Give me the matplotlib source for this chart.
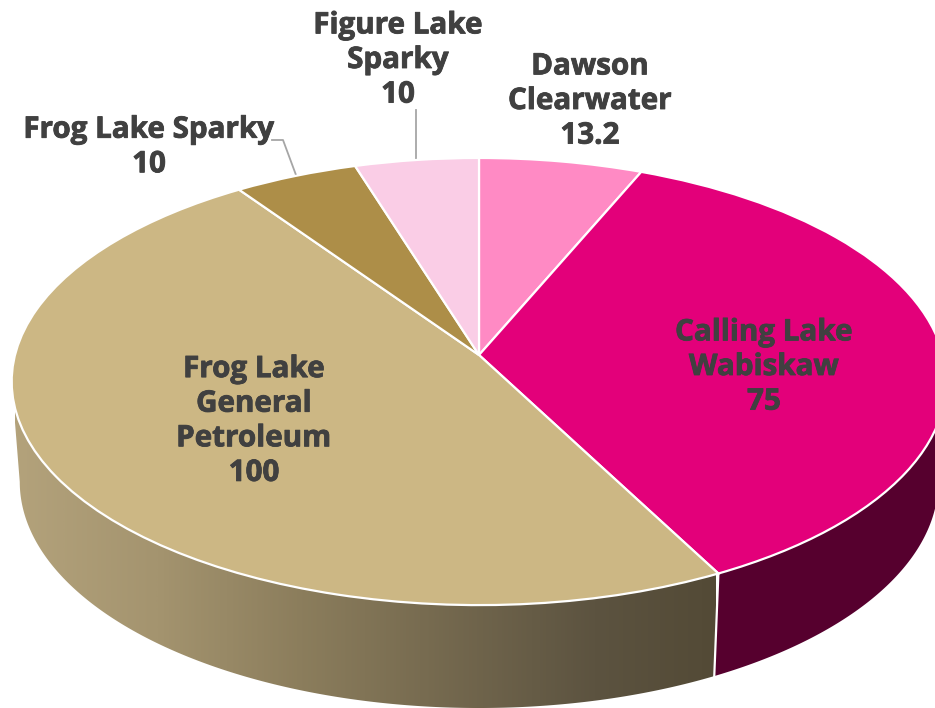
import numpy as np
import matplotlib
matplotlib.use("Agg")
import matplotlib.pyplot as plt
import matplotlib.patheffects as pe
from matplotlib.colors import LinearSegmentedColormap
from matplotlib.patches import Polygon
from matplotlib.transforms import Transform

# slices, clockwise from 12 o'clock
labels = ["Dawson\nClearwater", "Calling Lake\nWabiskaw", "Frog Lake\nGeneral\nPetroleum",
          "Frog Lake Sparky", "Figure Lake\nSparky"]
values = [13.2, 75, 100, 10, 10]
value_text = ["13.2", "75", "100", "10", "10"]
colors = ["#FF8AC4", "#E3007A", "#CCB784", "#AD8E48", "#FACDE6"]

label_pos = [(590, 101), (764, 367), (254, 421), (149, 147), (398, 60)]

k = 0.1186  # perspective of the tilted disc


class Disc(Transform):
    # unit circle -> tilted disc, in image pixels
    input_dims = 2
    output_dims = 2
    is_separable = False
    has_inverse = False

    def __init__(self, cx, cy, a, b):
        super().__init__()
        self.cx, self.cy, self.a, self.b = cx, cy, a, b

    def transform_non_affine(self, xy):
        xy = np.asarray(xy)
        d = 1 + k*xy[:, 1]
        return np.column_stack((self.cx + self.a*xy[:, 0]/d, self.cy - self.b*xy[:, 1]/d))


top = Disc(479, 355, 464, 220.4)
bottom = Disc(479, 455, 456, 223)


def side_polygon(th1, th2):
    th = np.radians(np.linspace(th1, th2, 300))
    circle = np.column_stack((np.cos(th), np.sin(th)))
    return np.vstack((top.transform(circle), bottom.transform(circle)[::-1]))


fig = plt.figure(figsize=(9.35, 7.08), dpi=100)
ax = fig.add_axes([0, 0, 1, 1])

wedges, _ = ax.pie(values, colors=colors, startangle=90, counterclock=False,
                   wedgeprops=dict(edgecolor="white", linewidth=1.6))
ax.set_aspect("auto")

for w in wedges:
    w.set_transform(top + ax.transData)
    w.set_zorder(3)

seam = wedges[1].theta1  # calling lake / frog lake general edge, negative angle
edge = np.degrees(np.arcsin(k))

# side walls
tan_cmap = LinearSegmentedColormap.from_list(
    "wall", [(0, "#B3A27B"), (0.2, "#A4946F"), (0.41, "#8B7D5C"), (0.83, "#5C5340"), (1, "#534A36")])
grad = np.linspace(0, 1, 400).reshape(1, -1)
im = ax.imshow(grad, cmap=tan_cmap, extent=(15, 716, 708, 300), aspect="auto", zorder=1)
tan_wall = Polygon(side_polygon(180 + edge, 360 + seam), closed=True, transform=ax.transData)
im.set_clip_path(tan_wall)

ax.add_patch(Polygon(side_polygon(seam, -edge), closed=True, facecolor="#56002E",
                     edgecolor="none", zorder=1))
ax.set_xlim(0, 935)
ax.set_ylim(708, 0)

# white line down the front seam
s = np.radians(seam)
p = np.array([[np.cos(s), np.sin(s)]])
a, b = top.transform(p)[0], bottom.transform(p)[0]
ax.plot([a[0], b[0]], [a[1], b[1]], color="white", lw=1.6, zorder=2)

# leader lines
ax.plot([416, 416], [110, 160], color="#A6A6A6", lw=1.3, zorder=2)
ax.plot([272, 283, 296], [140, 140, 175], color="#A6A6A6", lw=1.3, zorder=2)

for lab, val, pos in zip(labels, value_text, label_pos):
    ax.text(pos[0], pos[1], lab + "\n" + val, ha="center", va="center", color="#404040",
            fontsize=21.3, fontweight="bold", family="Open Sans", linespacing=1.2, zorder=5,
            path_effects=[pe.withStroke(linewidth=0.6, foreground="#404040")])

ax.axis("off")
fig.savefig("out.png", dpi=100)
